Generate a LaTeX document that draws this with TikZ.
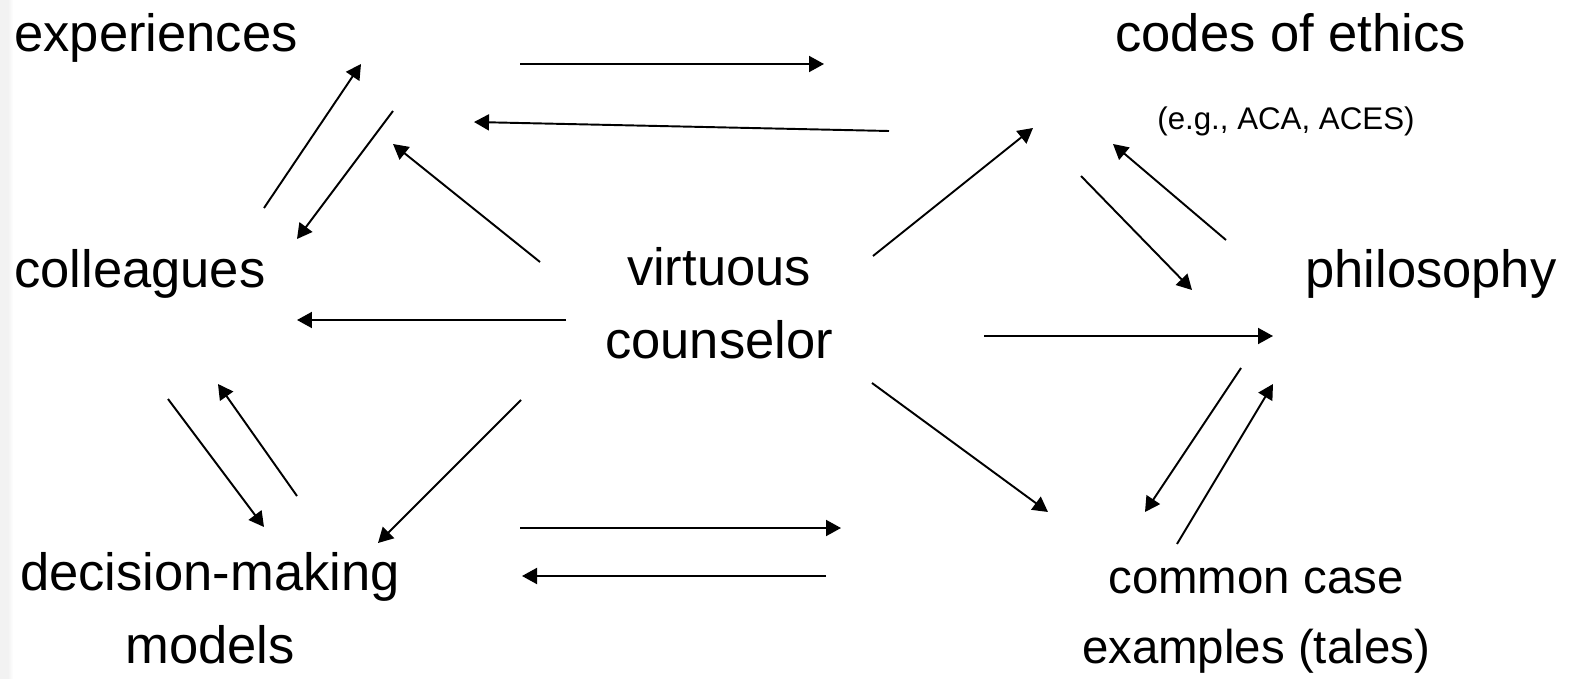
\documentclass[tikz,border=0pt]{standalone}
\usepackage{fontspec}
\setmainfont{Liberation Sans}
\usetikzlibrary{arrows.meta}

\begin{document}
\begin{tikzpicture}[x=0.02cm,y=-0.02cm]

    \tikzset{
      TermStyle/.style = { inner sep = 0pt, anchor = base west,
                          font = \fontsize{29.9}{41.4}\selectfont },
      PairStyle/.style = { TermStyle, anchor = base, align = center },
      NoteStyle/.style = { inner sep = 0pt, anchor = base west,
                          font = \fontsize{17.8}{21}\selectfont },
      ArrowStyle/.style = { line width = 1.1pt,
                          -{Triangle[length=0.3cm,width=0.32cm]} } }

      \useasboundingbox (0,0) rectangle (1570,679);
      \fill[gray!10] (0,0) rectangle (8,679);
      \shade[left color=gray!10,right color=white] (8,0) rectangle (13,679);

      \node[TermStyle] (exp) at (14, 52) {experiences};
      \node[TermStyle] (col) at (14, 287) {colleagues};
      \node[PairStyle] (dec) at (210, 663) {decision-making\\models};
      \node[PairStyle] (vir) at (719, 358) {virtuous\\counselor};
      \node[TermStyle] (cod) at (1115, 52) {codes of ethics};
      \node[NoteStyle] (aca) at (1157, 130) {(e.g., ACA, ACES)};
      \node[TermStyle] (phi) at (1305, 287) {philosophy};
      \node[PairStyle, font = \fontsize{27}{39.5}\selectfont] (cas)
        at (1256, 663) {common case\\examples (tales)};

      \coordinate (ec1) at (520, 64);   \coordinate (ec2) at (824, 64);
      \coordinate (ce1) at (889, 131);  \coordinate (ce2) at (474, 122);
      \coordinate (cx1) at (264, 208);  \coordinate (cx2) at (361, 64);
      \coordinate (xc1) at (393, 111);  \coordinate (xc2) at (297, 239);
      \coordinate (vx1) at (540, 262);  \coordinate (vx2) at (393, 144);
      \coordinate (vl1) at (566, 320);  \coordinate (vl2) at (297, 320);
      \coordinate (cd1) at (168, 399);  \coordinate (cd2) at (264, 527);
      \coordinate (dc1) at (297, 496);  \coordinate (dc2) at (218, 384);
      \coordinate (vd1) at (521, 400);  \coordinate (vd2) at (378, 543);
      \coordinate (dk1) at (520, 528);  \coordinate (dk2) at (841, 528);
      \coordinate (kd1) at (826, 576);  \coordinate (kd2) at (522, 576);
      \coordinate (vc1) at (873, 256);  \coordinate (vc2) at (1033, 128);
      \coordinate (cp1) at (1081, 176); \coordinate (cp2) at (1192, 290);
      \coordinate (pc1) at (1226, 240); \coordinate (pc2) at (1113, 144);
      \coordinate (vp1) at (984, 336);  \coordinate (vp2) at (1273, 336);
      \coordinate (vk1) at (872, 383);  \coordinate (vk2) at (1048, 512);
      \coordinate (pk1) at (1241, 368); \coordinate (pk2) at (1145, 512);
      \coordinate (kp1) at (1177, 544); \coordinate (kp2) at (1273, 384);

      \draw[ArrowStyle] (ec1) -- (ec2);
      \draw[ArrowStyle] (ce1) -- (ce2);
      \draw[ArrowStyle] (cx1) -- (cx2);
      \draw[ArrowStyle] (xc1) -- (xc2);
      \draw[ArrowStyle] (vx1) -- (vx2);
      \draw[ArrowStyle] (vl1) -- (vl2);
      \draw[ArrowStyle] (cd1) -- (cd2);
      \draw[ArrowStyle] (dc1) -- (dc2);
      \draw[ArrowStyle] (vd1) -- (vd2);
      \draw[ArrowStyle] (dk1) -- (dk2);
      \draw[ArrowStyle] (kd1) -- (kd2);
      \draw[ArrowStyle] (vc1) -- (vc2);
      \draw[ArrowStyle] (cp1) -- (cp2);
      \draw[ArrowStyle] (pc1) -- (pc2);
      \draw[ArrowStyle] (vp1) -- (vp2);
      \draw[ArrowStyle] (vk1) -- (vk2);
      \draw[ArrowStyle] (pk1) -- (pk2);
      \draw[ArrowStyle] (kp1) -- (kp2);

\end{tikzpicture}
\end{document}
